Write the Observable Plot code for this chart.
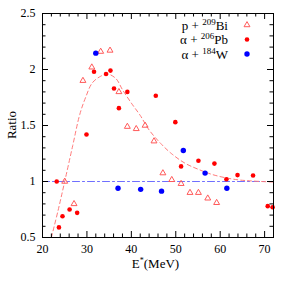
<!DOCTYPE html>
<html>
<head>
<meta charset="utf-8">
<script src="https://cdn.jsdelivr.net/npm/d3@7"></script>
<script src="https://cdn.jsdelivr.net/npm/@observablehq/plot@0.6"></script>
<style>
  html, body { margin: 0; padding: 0; background: white; }
  svg text { font-family: "Liberation Serif", "Times New Roman", "DejaVu Serif", serif !important; }
</style>
</head>
<body>
<div id="chart"></div>
<script>
// p + 209Bi (open triangles)
const biE = [25.0, 27.1, 29.1, 31.1, 33.1, 35.2, 37.2, 39.1, 41.1, 43.1, 45.1, 47.1, 49.1, 51.2, 53.2, 55.1, 57.2, 59.2];
const biR = [1.00, 0.80, 1.90, 2.02, 2.16, 2.17, 1.80, 1.49, 1.47, 1.50, 1.36, 1.075, 1.015, 0.98, 0.90, 0.90, 0.85, 0.81];
// alpha + 206Pb (red dots)
const pbE = [23.2, 23.7, 24.5, 26.1, 27.8, 29.9, 31.6, 34.3, 35.3, 36.1, 37.2, 39.1, 45.5, 49.9, 51.2, 55.1, 58.7, 61.4, 63.9, 67.4, 70.7, 71.8];
const pbR = [1.00, 0.59, 0.69, 0.75, 0.72, 1.42, 1.98, 1.96, 1.99, 1.83, 1.655, 1.80, 1.765, 1.53, 1.135, 1.185, 1.16, 1.02, 1.057, 1.054, 0.78, 0.77];
// alpha + 184W (blue dots)
const wE = [32.0, 37.0, 42.1, 46.8, 51.7, 56.6, 61.5];
const wR = [2.146, 0.94, 0.93, 0.914, 1.277, 1.075, 0.94];
// dashed fit curve
const fitE = [22.0, 23.5, 25.0, 26.8, 28.4, 29.7, 31.2, 33.1, 34.6, 36.5, 38.0, 40.0, 42.0, 44.0, 46.6, 49.0, 52.0, 55.0, 58.0, 61.0, 64.0, 67.0, 72.0];
const fitR = [0.50, 0.74, 1.00, 1.32, 1.60, 1.75, 1.88, 1.94, 1.96, 1.92, 1.82, 1.70, 1.59, 1.46, 1.34, 1.25, 1.165, 1.11, 1.065, 1.035, 1.015, 1.005, 0.995];
// reference line
const refLine = [{x: 20, y: 1}, {x: 72, y: 1}];

// axes
const xDomain = [20, 72];
const yDomain = [0.5, 2.5];
const xLabels = [20, 30, 40, 50, 60, 70];
const yLabels = [0.5, 1, 1.5, 2, 2.5];
const xMinor = d3.range(22, 72.1, 2).filter(d => d % 10 !== 0);
const yMinor = d3.range(5, 26).map(d => d / 10).filter(d => Math.round(d * 10) % 5 !== 0);

// legend
const legendItems = [
  {pre: "p + ", sup: "209", post: "Bi", kind: "tri"},
  {pre: "\u03B1 + ", sup: "206", post: "Pb", kind: "red"},
  {pre: "\u03B1 + ", sup: "184", post: "W", kind: "blue"}
];

const bi = biE.map((e, i) => ({e, r: biR[i]}));
const pb = pbE.map((e, i) => ({e, r: pbR[i]}));
const w = wE.map((e, i) => ({e, r: wR[i]}));
const fit = fitE.map((e, i) => ({e, r: fitR[i]}));

const W = 291, H = 291, mL = 42, mR = 18, mT = 13, mB = 54;
const fw = W - mL - mR, fh = H - mT - mB;
const maj = 6, mnr = 3.5;

const serif = "'Liberation Serif', 'Times New Roman', 'DejaVu Serif', serif";
const triColor = "#ff5a5a";
const fitColor = "#ff7a7a";
const triR = 2.2;

const chart = Plot.plot({
  width: W, height: H,
  marginLeft: mL, marginRight: mR, marginTop: mT, marginBottom: mB,
  x: {domain: xDomain},
  y: {domain: yDomain},
  style: {fontFamily: serif, fontSize: "12px", background: "white", color: "black"},
  marks: [
    Plot.line(refLine, {x: "x", y: "y", stroke: "#6f6fff", strokeWidth: 1, strokeDasharray: "7,3,2,3"}),
    Plot.line(fit, {x: "e", y: "r", stroke: fitColor, strokeWidth: 1, strokeDasharray: "4,3", curve: "catmull-rom", clip: true}),
    Plot.dot(bi, {x: "e", y: "r", symbol: "triangle", r: triR, stroke: triColor, fill: "none", strokeWidth: 1}),
    Plot.dot(pb, {x: "e", y: "r", r: 2.3, fill: "#ff0000", stroke: "none"}),
    Plot.dot(w, {x: "e", y: "r", r: 2.7, fill: "#0000ff", stroke: "none"}),
    // inward ticks: bottom / top
    Plot.ruleX(xLabels, {x: d => d, insetTop: fh - maj, stroke: "black"}),
    Plot.ruleX(xMinor, {x: d => d, insetTop: fh - mnr, stroke: "black"}),
    Plot.ruleX(xLabels, {x: d => d, insetBottom: fh - maj, stroke: "black"}),
    Plot.ruleX(xMinor, {x: d => d, insetBottom: fh - mnr, stroke: "black"}),
    // left / right
    Plot.ruleY(yLabels, {y: d => d, insetRight: fw - maj, stroke: "black"}),
    Plot.ruleY(yMinor, {y: d => d, insetRight: fw - mnr, stroke: "black"}),
    Plot.ruleY(yLabels, {y: d => d, insetLeft: fw - maj, stroke: "black"}),
    Plot.ruleY(yMinor, {y: d => d, insetLeft: fw - mnr, stroke: "black"}),
    Plot.axisX(xLabels, {tickSize: 0, tickPadding: 7, label: null, fontSize: 12}),
    Plot.axisY(yLabels, {tickSize: 0, tickPadding: 7, label: null, fontSize: 12, tickFormat: d => String(d)}),
    Plot.frame({stroke: "black", strokeWidth: 1})
  ]
});

document.getElementById("chart").appendChild(chart);

const svg = d3.select(chart);
const g = svg.append("g").attr("font-family", serif).attr("font-size", 13).attr("fill", "black");

// legend
const rowY = [25, 39.5, 54];
const textRight = 228, markX = 247;
legendItems.forEach((it, i) => {
  const t = g.append("text").attr("x", textRight).attr("y", rowY[i]).attr("dy", "0.35em").attr("text-anchor", "end");
  t.append("tspan").text(it.pre);
  t.append("tspan").attr("font-size", 9).attr("dy", -5).text(it.sup);
  t.append("tspan").attr("dy", 5).text(it.post);
  if (it.kind === "tri") {
    g.append("path").attr("d", d3.symbol(d3.symbolTriangle, Math.PI * triR * triR)())
      .attr("transform", `translate(${markX},${rowY[i]})`)
      .attr("fill", "none").attr("stroke", triColor).attr("stroke-width", 1);
  } else {
    g.append("circle").attr("cx", markX).attr("cy", rowY[i]).attr("r", it.kind === "red" ? 2.3 : 2.7)
      .attr("fill", it.kind === "red" ? "#ff0000" : "#0000ff");
  }
});

// x axis label E*(MeV)
const xl = g.append("text").attr("x", mL + fw / 2 - 2).attr("y", 268).attr("text-anchor", "middle");
xl.append("tspan").text("E");
xl.append("tspan").attr("font-size", 8).attr("dy", -5).text("*");
xl.append("tspan").attr("dy", 5).text("(MeV)");

// y axis label
g.append("text").attr("transform", `translate(${16},${mT + fh / 2}) rotate(-90)`)
  .attr("text-anchor", "middle").text("Ratio");
</script>
</body>
</html>
